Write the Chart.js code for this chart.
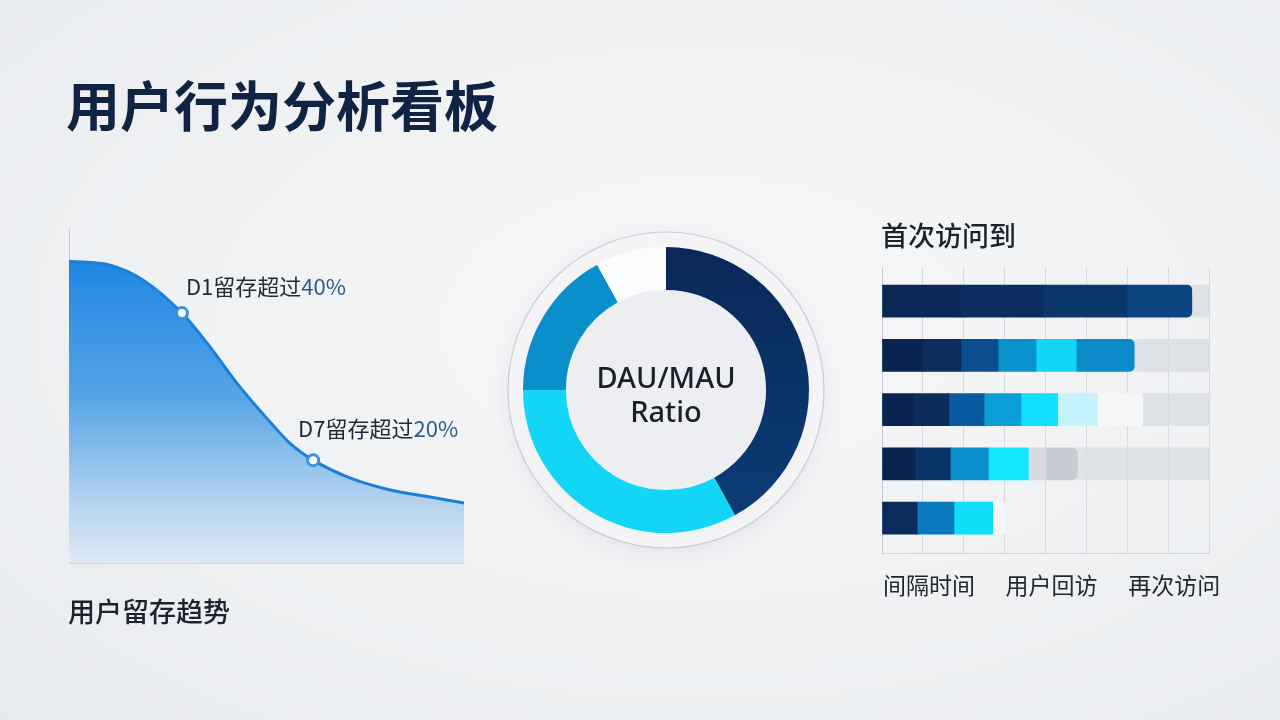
<!DOCTYPE html>
<html lang="zh">
<head>
<meta charset="utf-8">
<script src="https://cdn.jsdelivr.net/npm/chart.js"></script>
<style>
  html, body { margin: 0; padding: 0; }
  body {
    width: 1280px; height: 720px; overflow: hidden; position: relative;
    background: radial-gradient(ellipse at 55% 45%, #f6f7f9 0%, #eff1f3 55%, #e8ebee 100%);
    font-family: "Noto Sans CJK SC", "Noto Sans", sans-serif;
  }
  canvas { position: absolute; left: 0; top: 0; }
  .txt { position: absolute; white-space: nowrap; line-height: 1; }
  #title { left: 66px; top: 77px; font-size: 54px; font-weight: 700; color: #0f2342; }
  #sub1 { left: 68px; top: 597px; font-size: 27px; font-weight: 500; color: #1c2230; }
  #sub2 { left: 881px; top: 221px; font-size: 27px; font-weight: 500; color: #1c2230; }
  #center {
    position: absolute; left: 566px; top: 360px; width: 200px; text-align: center;
    font-family: "Noto Sans", sans-serif; font-size: 29px; font-weight: 500;
    line-height: 34px; color: #1a1f2b;
  }
</style>
</head>
<body>
<canvas id="retention" width="1280" height="720"></canvas>
<canvas id="ratio" width="1280" height="720"></canvas>
<canvas id="visits" width="1280" height="720"></canvas>
<div class="txt" id="title">用户行为分析看板</div>
<div class="txt" id="sub1">用户留存趋势</div>
<div class="txt" id="sub2">首次访问到</div>
<div id="center">DAU/MAU<br>Ratio</div>
<script>
// ---- retention curve (x = share of the period, y = retention %) ----
const retentionX = [0, 10.4, 18.7, 28.6, 35.7, 42.5, 50.9, 55.9, 61.8, 71.1, 81.3, 91.4, 100];
const retentionY = [90.1, 88.9, 84.5, 74.6, 64.5, 53.7, 42.1, 35.8, 30.7, 25.4, 21.8, 19.7, 17.9];
const retentionNotes = [
  { index: 3, text: "D1留存超过", value: "40%" },
  { index: 8, text: "D7留存超过", value: "20%" },
];

// ---- DAU/MAU doughnut ----
const ratioLabels = ["高频", "中频", "低频", "沉默"];
const ratioValues = [42, 33, 17, 8];

// ---- first visit -> return visit stacked bars ----
const visitRows = ["1", "2", "3", "4", "5"];
const visitSeg1 = [1.91, 1.0, 0.76, 0.81, 0.86];
const visitSeg2 = [2.03, 0.93, 0.88, 0.86, 0.9];
const visitSeg3 = [2.05, 0.91, 0.86, 0.93, 0.95];
const visitSeg4 = [1.59, 0.93, 0.9, 0.98, 0.34];
const visitSeg5 = [null, 0.98, 0.9, 0.42, null];
const visitSeg6 = [null, 1.42, 0.98, 0.78, null];
const visitSeg7 = [null, null, 1.1, null, null];
const visitRest = [0.42, 1.83, 1.62, 3.22, null];
const visitTickLabels = ["", "间隔时间", "", "", "用户回访", "", "", "再次访问", ""];

const cjk = '"Noto Sans CJK SC", "Noto Sans", sans-serif';

// line chart
const notePlugin = {
  id: "notes",
  afterDatasetsDraw(chart) {
    const { ctx } = chart;
    const pts = chart.getDatasetMeta(0).data;
    const shift = [[4, -26], [-15, -32]];
    ctx.save();
    ctx.font = "22px " + cjk;
    ctx.textBaseline = "middle";
    retentionNotes.forEach((n, i) => {
      const p = pts[n.index];
      const x = p.x + shift[i][0];
      const y = p.y + shift[i][1];
      ctx.fillStyle = "#1f2a36";
      ctx.fillText(n.text, x, y);
      const w = ctx.measureText(n.text).width;
      ctx.fillStyle = "#2c5d8f";
      ctx.fillText(n.value, x + w, y);
    });
    ctx.restore();
  },
};

const marked = retentionNotes.map((n) => n.index);

new Chart(document.getElementById("retention"), {
  type: "line",
  data: {
    datasets: [
      {
        data: retentionX.map((x, i) => ({ x: x, y: retentionY[i] })),
        borderColor: "#1c80d8",
        borderWidth: 3,
        cubicInterpolationMode: "monotone",
        fill: "origin",
        clip: false,
        backgroundColor: (c) => {
          const area = c.chart.chartArea;
          if (!area) return "#4a9fe4";
          const g = c.chart.ctx.createLinearGradient(0, area.top + 30, 0, area.bottom);
          g.addColorStop(0, "#1f86e2");
          g.addColorStop(0.45, "#55a4e6");
          g.addColorStop(0.8, "#b4d3f0");
          g.addColorStop(1, "#dfe9f4");
          return g;
        },
        pointRadius: (c) => (marked.includes(c.dataIndex) ? 5.5 : 0),
        pointBackgroundColor: "#ffffff",
        pointBorderColor: "#3a93dc",
        pointBorderWidth: 3,
      },
    ],
  },
  options: {
    responsive: false,
    animation: false,
    layout: { padding: { left: 69, top: 228, right: 816, bottom: 157 } },
    plugins: { legend: { display: false }, tooltip: { enabled: false } },
    scales: {
      x: {
        type: "linear", min: 0, max: 100,
        ticks: { display: false },
        grid: { display: false, drawTicks: false },
        border: { color: "#cfd3d8" },
      },
      y: {
        min: 0, max: 100,
        ticks: { display: false },
        grid: { display: false, drawTicks: false },
        border: { color: "#c8ccd2" },
      },
    },
  },
  plugins: [notePlugin],
});

// doughnut
const glassPlugin = {
  id: "glass",
  beforeDatasetsDraw(chart) {
    const arc = chart.getDatasetMeta(0).data[0];
    if (!arc) return;
    const { ctx } = chart;
    ctx.save();
    ctx.shadowColor = "rgba(40,50,70,0.08)";
    ctx.shadowBlur = 22;
    ctx.shadowOffsetY = 5;
    ctx.beginPath();
    ctx.arc(arc.x, arc.y, arc.outerRadius + 15, 0, Math.PI * 2);
    ctx.fillStyle = "rgba(244,245,247,0.85)";
    ctx.fill();
    ctx.shadowColor = "transparent";
    ctx.lineWidth = 1.2;
    ctx.strokeStyle = "#c9cdd3";
    ctx.stroke();
    ctx.beginPath();
    ctx.arc(arc.x, arc.y, arc.innerRadius, 0, Math.PI * 2);
    ctx.fillStyle = "#eceef1";
    ctx.fill();
    ctx.restore();
  },
};

new Chart(document.getElementById("ratio"), {
  type: "doughnut",
  data: {
    labels: ratioLabels,
    datasets: [
      {
        data: ratioValues,
        borderWidth: 0,
        backgroundColor: (c) => {
          const area = c.chart.chartArea;
          if (c.dataIndex === 0 && area) {
            const g = c.chart.ctx.createLinearGradient(0, area.top, 0, area.bottom);
            g.addColorStop(0, "#0a2858");
            g.addColorStop(1, "#0c3d78");
            return g;
          }
          return ["#0b2d62", "#13d6f7", "#0b8fca", "#fbfcfd"][c.dataIndex];
        },
      },
    ],
  },
  options: {
    responsive: false,
    animation: false,
    cutout: "70%",
    layout: { padding: { left: 523, right: 471, top: 247, bottom: 187 } },
    plugins: { legend: { display: false }, tooltip: { enabled: false } },
  },
  plugins: [glassPlugin],
});

// stacked bars (row index on a linear y scale so the rows keep their spacing)
const segValues = [visitSeg1, visitSeg2, visitSeg3, visitSeg4, visitSeg5, visitSeg6, visitSeg7];
const segColors = [
  ["#0a2857", "#0a2450", "#0a2452", "#0a2452", "#0b2c5c"],
  ["#0a2e60", "#0b2e5e", "#0b2b58", "#0b3466", "#0a78bc"],
  ["#0b376d", "#0a4e8e", "#0a5aa2", "#0a8fcc", "#10def9"],
  ["#0c4582", "#0a92cc", "#0a9ed6", "#14e6fe", "#f6f7f9"],
  [null, "#12d6f6", "#12e0fc", "#d8dce2", null],
  [null, "#0a8bc8", "#c5f3fb", "#c8cdd5", null],
  [null, null, "#f6f7f9", null, null],
];
const lastSeg = visitRows.map((r, row) => {
  let last = -1;
  segValues.forEach((s, k) => { if (s[row] != null) last = k; });
  return last;
});

const toPoints = (vals) =>
  vals.map((v, i) => ({ x: v, y: i })).filter((d) => d.x != null);

const barSets = segValues.map((vals, k) => ({
  label: "seg" + (k + 1),
  data: toPoints(vals),
  backgroundColor: (c) => (c.raw ? segColors[k][c.raw.y] : "#0a2452"),
  barThickness: 32,
  borderRadius: (c) => (c.raw && lastSeg[c.raw.y] === k ? { topRight: 5, bottomRight: 5 } : 0),
}));
barSets.push({
  label: "rest",
  data: toPoints(visitRest),
  backgroundColor: "rgba(216,220,226,0.75)",
  barThickness: 32,
});

new Chart(document.getElementById("visits"), {
  type: "bar",
  data: { labels: visitRows, datasets: barSets },
  options: {
    indexAxis: "y",
    responsive: false,
    animation: false,
    layout: { padding: { left: 882, right: 71, top: 267, bottom: 103 } },
    plugins: { legend: { display: false }, tooltip: { enabled: false } },
    scales: {
      x: {
        type: "linear", min: 0, max: 8, stacked: true,
        ticks: {
          stepSize: 1, autoSkip: false, maxRotation: 0, padding: 18, labelOffset: 6,
          color: "#222630", font: { family: cjk, size: 23 },
          callback: (v) => visitTickLabels[v] || "",
        },
        grid: { color: "#d6dae0", drawTicks: false },
        border: { color: "#cfd3d8" },
      },
      y: {
        type: "linear", reverse: true, offset: false, min: -0.63, max: 4.65, stacked: true,
        ticks: { display: false },
        grid: { display: false, drawTicks: false },
        border: { color: "#c9cdd3" },
      },
    },
  },
});
</script>
</body>
</html>
